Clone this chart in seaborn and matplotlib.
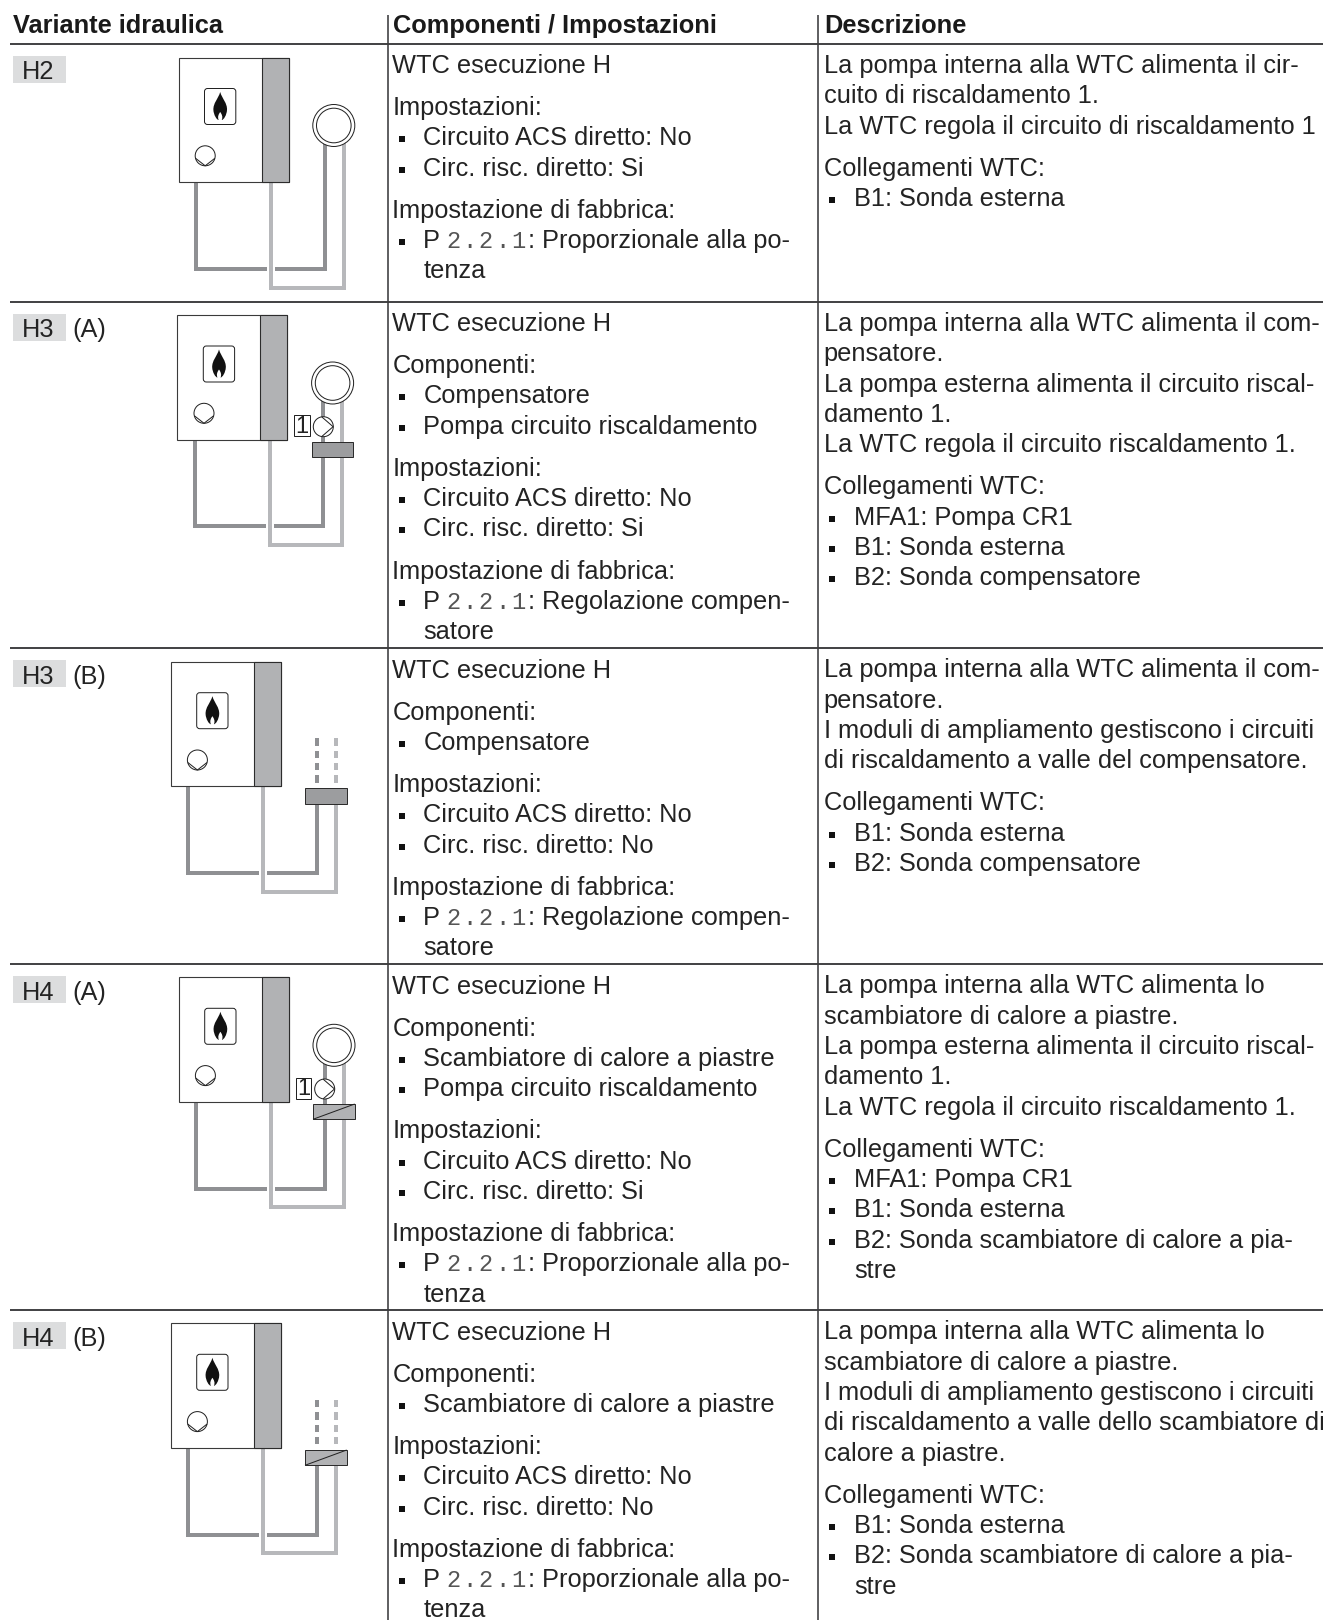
import matplotlib
matplotlib.use('Agg')
import matplotlib.pyplot as plt
from matplotlib.patches import Rectangle, Circle, FancyBboxPatch, PathPatch
from matplotlib.path import Path
import pandas as pd
import seaborn as sns

#%%
# Table content. Lines starting with '- ' are bullets, with '  ' continue a bullet.
headers = ['Variante idraulica', 'Componenti / Impostazioni', 'Descrizione']
variants = ['H2', 'H3', 'H3', 'H4', 'H4']
suffixes = ['', '(A)', '(B)', '(A)', '(B)']
diagrams = ['plain', 'separator_pump', 'separator', 'exchanger_pump', 'exchanger']

set_no_si = ['Impostazioni:', '- Circuito ACS diretto: No', '- Circ. risc. diretto: Si']
set_no_no = ['Impostazioni:', '- Circuito ACS diretto: No', '- Circ. risc. diretto: No']
factory_prop = ['Impostazione di fabbrica:', '- P 2.2.1: Proporzionale alla po-', '  tenza']
factory_comp = ['Impostazione di fabbrica:', '- P 2.2.1: Regolazione compen-', '  satore']
wtc = ['WTC esecuzione H']

components_h2 = [wtc, set_no_si, factory_prop]
components_h3a = [wtc, ['Componenti:', '- Compensatore', '- Pompa circuito riscaldamento'], set_no_si, factory_comp]
components_h3b = [wtc, ['Componenti:', '- Compensatore'], set_no_no, factory_comp]
components_h4a = [wtc, ['Componenti:', '- Scambiatore di calore a piastre', '- Pompa circuito riscaldamento'],
                  set_no_si, factory_prop]
components_h4b = [wtc, ['Componenti:', '- Scambiatore di calore a piastre'], set_no_no, factory_prop]
components = [components_h2, components_h3a, components_h3b, components_h4a, components_h4b]

desc_h2 = [['La pompa interna alla WTC alimenta il cir-', 'cuito di riscaldamento 1.',
            'La WTC regola il circuito di riscaldamento 1'],
           ['Collegamenti WTC:', '- B1: Sonda esterna']]
desc_h3a = [['La pompa interna alla WTC alimenta il com-', 'pensatore.',
             'La pompa esterna alimenta il circuito riscal-', 'damento 1.',
             'La WTC regola il circuito riscaldamento 1.'],
            ['Collegamenti WTC:', '- MFA1: Pompa CR1', '- B1: Sonda esterna', '- B2: Sonda compensatore']]
desc_h3b = [['La pompa interna alla WTC alimenta il com-', 'pensatore.',
             'I moduli di ampliamento gestiscono i circuiti', 'di riscaldamento a valle del compensatore.'],
            ['Collegamenti WTC:', '- B1: Sonda esterna', '- B2: Sonda compensatore']]
desc_h4a = [['La pompa interna alla WTC alimenta lo', 'scambiatore di calore a piastre.',
             'La pompa esterna alimenta il circuito riscal-', 'damento 1.',
             'La WTC regola il circuito riscaldamento 1.'],
            ['Collegamenti WTC:', '- MFA1: Pompa CR1', '- B1: Sonda esterna',
             '- B2: Sonda scambiatore di calore a pia-', '  stre']]
desc_h4b = [['La pompa interna alla WTC alimenta lo', 'scambiatore di calore a piastre.',
             'I moduli di ampliamento gestiscono i circuiti', 'di riscaldamento a valle dello scambiatore di',
             'calore a piastre.'],
            ['Collegamenti WTC:', '- B1: Sonda esterna',
             '- B2: Sonda scambiatore di calore a pia-', '  stre']]
descriptions = [desc_h2, desc_h3a, desc_h3b, desc_h4a, desc_h4b]

#%%
# Layout, in pixels of the page
row_tops = [43.5, 301.5, 648, 964, 1310]
box_corners = [(178.5, 57.5), (177.3, 315), (170.7, 661.7), (178.7, 977.3), (170.7, 1323.3)]
col_rules = [387.5, 818.3]
cols = {'comp': (392.5, 401.7, 423.3), 'desc': (823.5, 832.3, 854)}
line_step = 30.3
para_gap = 11.8
font_size = 18.3

text_col = '#232323'
rule_col = '#3c3c3e'
dark_pipe = '#8f9093'
light_pipe = '#b7b8bb'
side_grey = '#b1b2b4'
sep_grey = '#9c9d9f'
tag_grey = '#dcddde'

sns.set_theme(style='white')
plt.rcParams['font.family'] = ['Liberation Sans', 'DejaVu Sans']

fig = plt.figure(figsize=(13.23, 16.2), dpi=100)
ax = fig.add_axes([0, 0, 1, 1])
ax.set_xlim(0, 1323)
ax.set_ylim(1620, 0)
ax.set_autoscale_on(False)


def seg(xs, ys, color, lw, z=2, **kw):
    df = pd.DataFrame({'x': xs, 'y': ys})
    sns.lineplot(data=df, x='x', y='y', sort=False, estimator=None, color=color, linewidth=lw,
                 ax=ax, zorder=z, legend=False, solid_capstyle='butt', solid_joinstyle='miter', **kw)


def px(p):
    return p * 0.72


def draw_lines(paragraphs, top, col):
    x0, x_bullet, x_text = cols[col]
    y = top + 29.5
    bullets_x, bullets_y = [], []
    for para in paragraphs:
        for line in para:
            if line.startswith('- '):
                bullets_x.append(x_bullet)
                bullets_y.append(y - 6)
                if line.startswith('- P 2.2.1:'):
                    ax.text(x_text, y, 'P', fontsize=font_size, color=text_col, va='baseline')
                    for k, ch in enumerate('2.2.1'):
                        ax.text(x_text + 30 + k * 16.2, y, ch, fontsize=17, color='#555555',
                                family='Liberation Mono', ha='center', va='baseline')
                    ax.text(x_text + 104, y, ':', fontsize=font_size, color=text_col, va='baseline')
                    ax.text(x_text + 118.4, y, line[11:], fontsize=font_size, color=text_col, va='baseline')
                else:
                    ax.text(x_text, y, line[2:], fontsize=font_size, color=text_col, va='baseline')
            elif line.startswith('  '):
                ax.text(x_text, y, line[2:], fontsize=font_size, color=text_col, va='baseline')
            else:
                ax.text(x0, y, line, fontsize=font_size, color=text_col, va='baseline')
            y += line_step
        y += para_gap
    sns.scatterplot(x=bullets_x, y=bullets_y, marker='s', s=18, color='#111111', linewidth=0, ax=ax, legend=False)


def draw_flame(bx, by):
    cx = bx + 41.7
    top = by + 34.5
    verts = [(cx, top), (cx + 2, top + 7), (cx + 7.2, top + 11), (cx + 6.8, top + 18),
             (cx + 6.5, top + 23), (cx + 3.5, top + 28), (cx + 1.5, top + 28),
             (cx + 3, top + 25), (cx + 1.5, top + 22), (cx, top + 20),
             (cx - 1.5, top + 22), (cx - 3, top + 25), (cx - 1.5, top + 28),
             (cx - 3.5, top + 28), (cx - 6.5, top + 23), (cx - 6.8, top + 18),
             (cx - 7.2, top + 11), (cx - 2, top + 7), (cx, top), (cx, top)]
    codes = [Path.MOVETO] + [Path.CURVE4] * 18 + [Path.CLOSEPOLY]
    ax.add_patch(PathPatch(Path(verts, codes), fc='#111111', ec='none', zorder=4))


def draw_pump(cx, cy, sideways=False):
    ax.add_patch(Circle((cx, cy), 10, fc='white', ec='#222222', lw=px(1), zorder=4))
    if sideways:
        seg([cx - 1.5, cx + 9.8, cx - 1.5], [cy - 9.8, cy, cy + 9.8], '#222222', px(1), z=5)
    else:
        seg([cx - 9.6, cx, cx + 9.6], [cy + 2.5, cy + 10, cy + 2.5], '#222222', px(1), z=5)


def draw_diagram(bx, by, kind):
    xd, xl = bx + 146, bx + 165
    ybot = by + 124.7
    no_radiator = kind in ('separator', 'exchanger')
    y_end = by + 142 if no_radiator else by + 85
    # pipes from the boiler
    pipe_lw = px(4)
    seg([bx + 17.3, bx + 17.3, bx + 88.3], [ybot, by + 211.3, by + 211.3], dark_pipe, pipe_lw)
    seg([bx + 96.5, xd, xd], [by + 211.3, by + 211.3, y_end], dark_pipe, pipe_lw)
    seg([bx + 92.7, bx + 92.7, xl, xl], [ybot, by + 230, by + 230, y_end], light_pipe, pipe_lw)
    if no_radiator:
        for x, c in [(xd, dark_pipe), (xl, light_pipe)]:
            for y0 in (76.7, 89, 101.3, 113.6):
                seg([x, x], [by + y0, by + y0 + 7.4], c, pipe_lw)
    else:
        ax.add_patch(Circle((bx + 155.3, by + 68), 21, fc='white', ec='#222222', lw=px(1), zorder=4))
        ax.add_patch(Circle((bx + 155.3, by + 68), 17.3, fc='white', ec='#222222', lw=px(1), zorder=4))
    # boiler
    ax.add_patch(Rectangle((bx, by), 110, 124.7, fc='white', ec='#3a3a3a', lw=px(1.1), zorder=3))
    ax.add_patch(Rectangle((bx + 83, by), 27, 124.7, fc=side_grey, ec='#2c2c2c', lw=px(1.1), zorder=3))
    ax.add_patch(FancyBboxPatch((bx + 26 + 3, by + 31 + 3), 25.3, 30, boxstyle='round,pad=3', fc='white',
                                ec='#222222', lw=px(1), zorder=4))
    draw_flame(bx, by)
    draw_pump(bx + 26.7, by + 98.3)
    # separator or plate exchanger
    if kind != 'plain':
        fill = sep_grey if kind.startswith('separator') else side_grey
        ax.add_patch(Rectangle((bx + 134.3, by + 126.7), 41.7, 15.3, fc=fill, ec='#2c2c2c', lw=px(1), zorder=4))
        if kind.startswith('exchanger'):
            seg([bx + 134.3, bx + 176], [by + 142, by + 126.7], '#222222', px(1), z=5)
    if kind.endswith('_pump'):
        draw_pump(xd, by + 111.7, sideways=True)
        ax.add_patch(Rectangle((bx + 117, by + 100.3), 15.7, 21, fc='white', ec='#222222', lw=px(1), zorder=4))
        ax.text(bx + 124.9, by + 118, '1', fontsize=17, color=text_col, ha='center', va='baseline', zorder=5)


#%%
# Rules
for y in row_tops:
    seg([9.5, 1323], [y, y], rule_col, px(1.9))
for x in col_rules:
    seg([x, x], [15, 1620], rule_col, px(1.6))

# Header
for x, head in zip([13, 393, 824], headers):
    ax.text(x, 33.2, head, fontsize=font_size, fontweight='bold', color='#1a1a1a', va='baseline')

# Rows
for i, top in enumerate(row_tops):
    ax.add_patch(Rectangle((13, top + 12.3), 53, 27, fc=tag_grey, ec='none', zorder=1))
    ax.text(22, top + 35.6, variants[i], fontsize=font_size, color=text_col, va='baseline')
    if suffixes[i]:
        ax.text(72, top + 35.6, suffixes[i], fontsize=font_size, color=text_col, va='baseline')
    draw_diagram(box_corners[i][0], box_corners[i][1], diagrams[i])
    draw_lines(components[i], top, 'comp')
    draw_lines(descriptions[i], top, 'desc')

ax.axis('off')
plt.savefig('out.png', dpi=100)
